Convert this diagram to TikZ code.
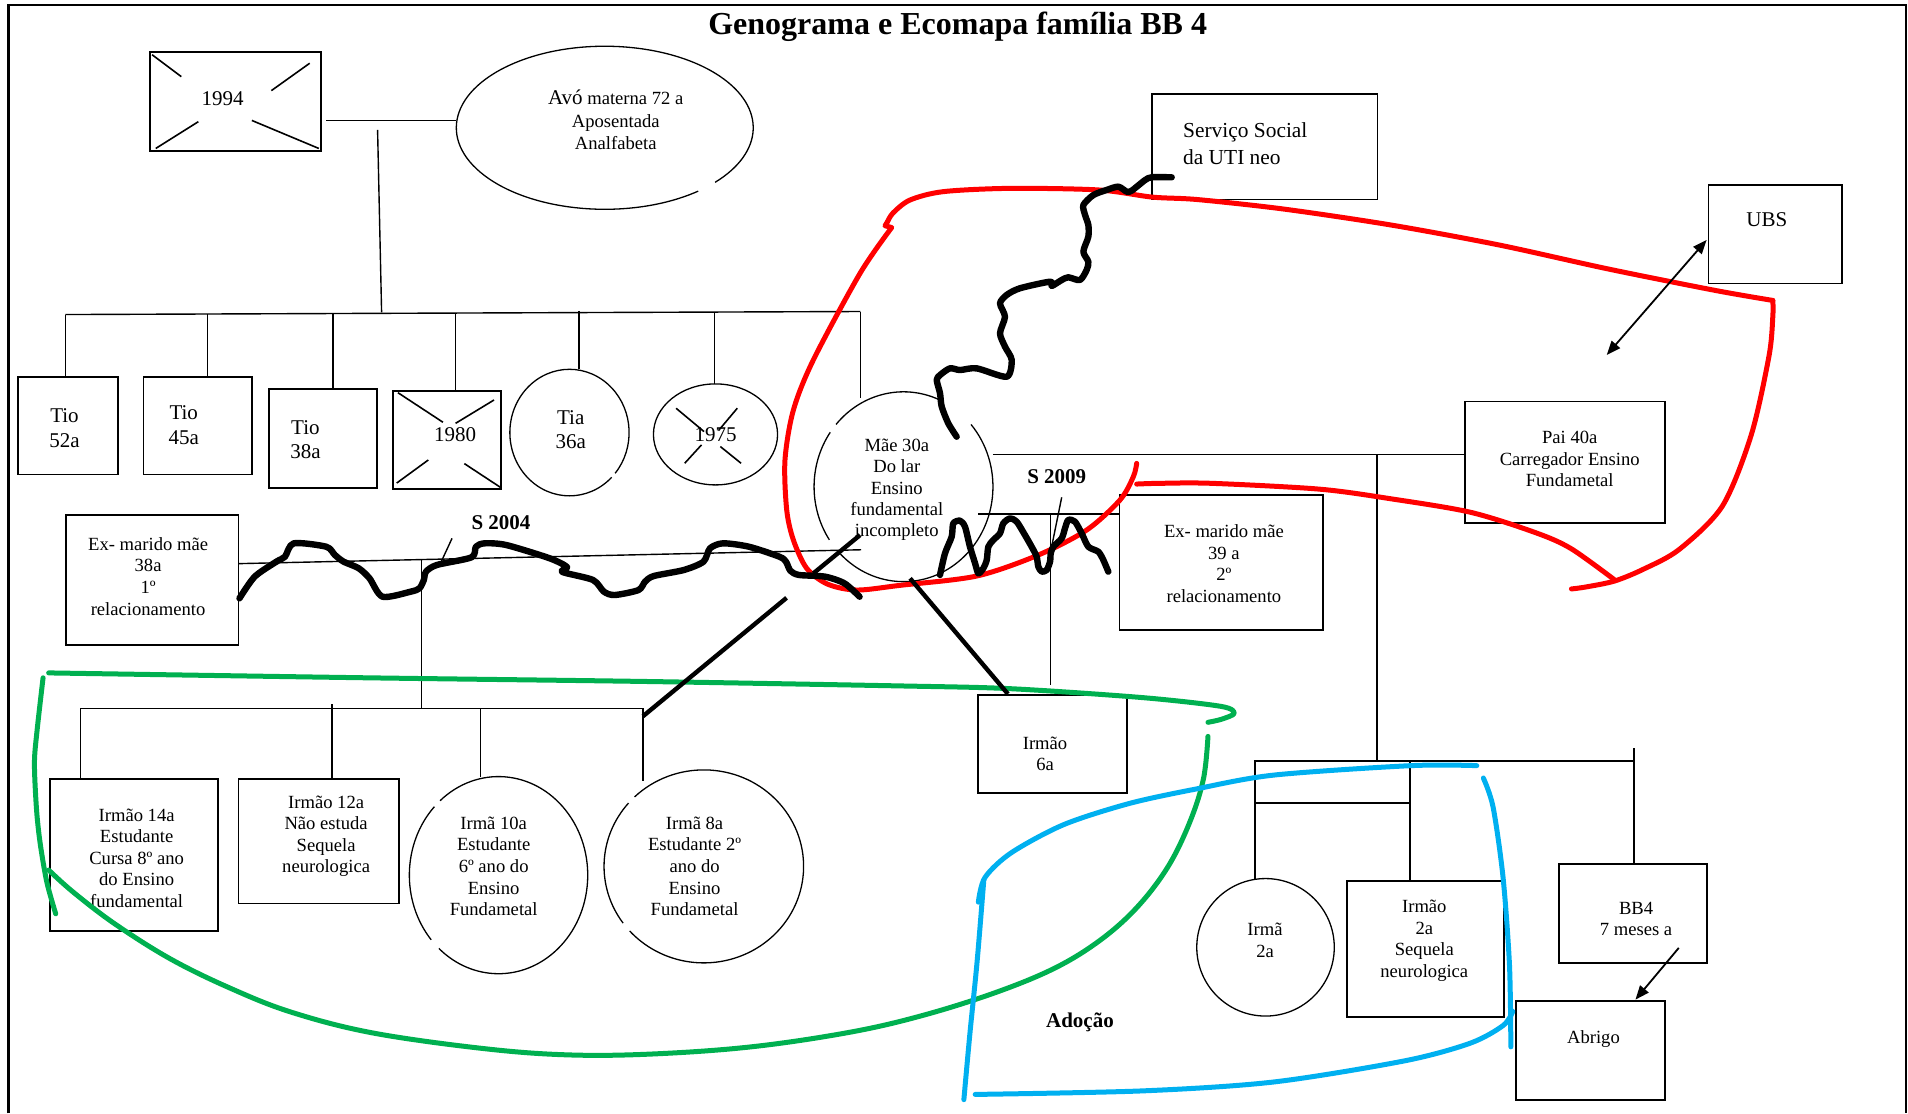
\documentclass[tikz,border=0pt]{standalone}
\usepackage{fontspec}
\setmainfont{Liberation Serif}
\usetikzlibrary{shapes.geometric,arrows.meta,fit}
\definecolor{ecored}{RGB}{255,0,0}
\definecolor{ecogreen}{RGB}{0,176,80}
\definecolor{ecoblue}{RGB}{0,176,240}

\tikzset{
  edgeline/.style={line width=1.2pt},
  gline/.style={line width=0.7pt},
  xline/.style={line width=0.8pt},
  box/.style={draw, line width=0.9pt, inner sep=0pt, outer sep=0pt},
  oval/.style 2 args={ellipse, inner sep=0pt, outer sep=0pt,
    minimum width={#1*1.2168pt}, minimum height={#2*1.2168pt}},
  rim/.style={line width=0.65pt},
  txtS/.style={align=center, inner sep=0pt, font=\fontsize{9.3}{10.8}\selectfont},
  txtL/.style={align=center, inner sep=0pt, font=\fontsize{10.5}{12.2}\selectfont},
  sepnote/.style={inner sep=0pt, font=\fontsize{10.5}{12.2}\selectfont\bfseries},
  wavy/.style={line width=3.2pt, line join=round, line cap=round},
  heavy/.style={line width=2.2pt},
  ecoline/.style={line width=2.5pt, line cap=round, line join=round},
  arrowline/.style={line width=0.9pt},
  tip/.style={arrows={-Triangle[length=7pt,width=5.5pt]}},
  tips/.style={arrows={Triangle[length=7pt,width=5.5pt]-Triangle[length=7pt,width=5.5pt]}},
}

\begin{document}
\begin{tikzpicture}[x=0.6084pt, y=-0.6084pt]
\useasboundingbox (0,0) rectangle (1568,915);

% page frame
\draw[edgeline] (7.1,915) -- (7.1,4.1) -- (1566.5,4.1) -- (1566.5,915);

\node[font=\fontsize{16}{19}\selectfont\bfseries, inner sep=0pt] (title) at (787,22)
  {Genograma e Ecomapa família BB 4};

% ---------------- shapes ----------------
\node[box, fit={(123,43) (264,124)}] (b1994) {};
\node[oval={122}{67}] (avo) at (497,105) {};
\node[box, fit={(15,310) (97,390)}] (tio52) {};
\node[box, fit={(118,310) (207,390)}] (tio45) {};
\node[box, fit={(221,320) (310,401)}] (tio38) {};
\node[box, fit={(323,321) (412,402)}] (b1980) {};
\node[oval={49}{52}] (tia) at (468,355.5) {};
\node[oval={51}{41.5}, draw, rim] (e1975) at (588,357) {};
\node[oval={73.5}{78}] (mae) at (742.5,400) {};
\node[box, fit={(54,423) (196,530)}] (exm1) {};
\node[box, fit={(920,407) (1087,518)}] (exm2) {};
\node[box, fit={(1204,330) (1368,430)}] (pai) {};
\node[box, fit={(947,77) (1132,164)}] (servico) {};
\node[box, fit={(1404,152) (1514,233)}] (ubs) {};
\node[box, fit={(41,640) (179,765)}] (irmao14) {};
\node[box, fit={(196,640) (328,742.5)}] (irmao12) {};
\node[oval={73.3}{81}] (irma10) at (409.7,719.2) {};
\node[oval={82}{79.3}] (irma8) at (578.4,712) {};
\node[box, fit={(804,571) (926,652)}] (irmao6) {};
\node[oval={56.5}{56.5}, draw, rim] (irma2) at (1040,778.5) {};
\node[box, fit={(1107,724) (1236,835.6)}] (irmao2) {};
\node[box, fit={(1281,710) (1403,791.6)}] (bb4) {};
\node[box, fit={(1246,822.6) (1368,904)}] (abrigo) {};

% ellipse outlines with their small breaks
\draw[rim, shift={(497,105)}] (51:122 and 67) arc[start angle=51, end angle=402, x radius=122, y radius=67];
\draw[rim, shift={(468,355.5)}] (45:49 and 52) arc[start angle=45, end angle=400, x radius=49, y radius=52];
\draw[rim, shift={(742.5,400)}] (-41:73.5 and 78) arc[start angle=-41, end angle=135, x radius=73.5, y radius=78];
\draw[rim, shift={(742.5,400)}] (146:73.5 and 78) arc[start angle=146, end angle=215, x radius=73.5, y radius=78];
\draw[rim, shift={(742.5,400)}] (221:73.5 and 78) arc[start angle=221, end angle=296, x radius=73.5, y radius=78];
\draw[rim, shift={(409.7,719.2)}] (229:73.3 and 81) arc[start angle=229, end angle=492, x radius=73.3, y radius=81];
\draw[rim, shift={(409.7,719.2)}] (139:73.3 and 81) arc[start angle=139, end angle=224, x radius=73.3, y radius=81];
\draw[rim, shift={(578.4,712)}] (226:82 and 79.3) arc[start angle=226, end angle=498, x radius=82, y radius=79.3];
\draw[rim, shift={(578.4,712)}] (144:82 and 79.3) arc[start angle=144, end angle=221, x radius=82, y radius=79.3];

% crosses of the deceased
\draw[xline] (125,45) -- (149,63) (254.5,52) -- (223,74.5) (128,122) -- (163,100) (262,122) -- (207,99);
\draw[xline] (327,322.7) -- (364,347) (406,328.7) -- (374.4,347.9) (326,397) -- (352,378) (412,401) -- (381.6,381);
\draw[xline] (555.6,335.5) -- (578.6,354.7) (605.9,335.5) -- (590.4,353.9) (562.7,380.7) -- (576.5,365.6) (592,367) -- (609,380.7);

% ---------------- texts ----------------
\node[txtL] (t1994) at (183,81) {1994};
\node[txtS, font=\fontsize{9.3}{11.3}\selectfont] (tavo) at (506,98.5)
  {{\fontsize{10.5}{11.3}\selectfont Avó} materna 72 a\\Aposentada\\Analfabeta};
\node[txtL] (ttio52) at (53,352) {Tio\\52a};
\node[txtL] (ttio45) at (151,349.5) {Tio\\45a};
\node[txtL] (ttio38) at (251,361.5) {Tio\\38a};
\node[txtL] (t1980) at (374,357) {1980};
\node[txtL] (ttia) at (469,353) {Tia\\36a};
\node[txtL] (t1975) at (588,357) {1975};
\node[txtS, font=\fontsize{9.3}{10.65}\selectfont] (tmae) at (737,402.6)
  {Mãe 30a\\Do lar\\Ensino\\fundamental\\incompleto};
\node[txtS] (texm1) at (121.7,473.7) {Ex- marido mãe\\38a\\1º\\relacionamento};
\node[txtS] (texm2) at (1005.8,463.1) {Ex- marido mãe\\39 a\\2º\\relacionamento};
\node[txtS] (tpai) at (1290,377.4) {Pai 40a\\Carregador Ensino\\Fundametal};
\node[anchor=west, align=left, inner sep=0pt, font=\fontsize{10.7}{13.3}\selectfont] (tserv)
  at (972,118.1) {Serviço Social\\da UTI neo};
\node[txtL] (tubs) at (1452,180.3) {UBS};
\node[txtS] (tirmao14) at (112.3,705.2) {Irmão 14a\\Estudante\\Cursa 8º ano\\do Ensino\\fundamental};
\node[txtS] (tirmao12) at (268,687.3) {Irmão 12a\\Não estuda\\Sequela\\neurologica};
\node[txtS] (tirma10) at (405.7,712) {Irmã 10a\\Estudante\\6º ano do\\Ensino\\Fundametal};
\node[txtS] (tirma8) at (570.8,712) {Irmã 8a\\Estudante 2º\\ano do\\Ensino\\Fundametal};
\node[txtS] (tirmao6) at (858.8,619.4) {Irmão\\6a};
\node[txtS] (tirma2) at (1039.6,772.9) {Irmã\\2a};
\node[txtS] (tirmao2) at (1170.5,773) {Irmão\\2a\\Sequela\\neurologica};
\node[txtS] (tbb4) at (1344.5,755.3) {BB4\\7 meses a};
\node[txtS] (tabrigo) at (1309.5,853.6) {Abrigo};
\node[sepnote] (s2004) at (411.7,429.5) {S 2004};
\node[sepnote] (s2009) at (868.4,391.7) {S 2009};
\node[sepnote] (adocao) at (887.5,839.9) {Adoção};

% ---------------- genogram lines ----------------
% grandparents
\coordinate (gpa) at (268,99);
\draw[gline] (gpa) -- (gpa -| avo.west);
\coordinate (gdesc) at (310.3,106.8);
\coordinate (gbar) at (313.6,256.8);
\draw[gline] (gdesc) -- (gbar);
\coordinate (sibL) at (53.7,258.5);
\coordinate (sibR) at (707,256);
\draw[gline] (sibL) -- (sibR);
\coordinate (d1) at (53.7,258.5);
\coordinate (d2) at (170.7,258.2);
\coordinate (d3) at (273.8,257.5);
\coordinate (d4) at (374.4,257.3);
\coordinate (d5) at (475.9,255.5);
\coordinate (d6) at (587,257);
\coordinate (maetop) at (707,327);
\draw[gline] (d1) -- (d1 |- tio52.north);
\draw[gline] (d2) -- (d2 |- tio45.north);
\draw[gline] (d3) -- (d3 |- tio38.north);
\draw[gline] (d4) -- (d4 |- b1980.north);
\draw[gline] (d5) -- (d5 |- tia.north);
\draw[gline] (d6) -- (d6 |- e1975.north);
\draw[gline] (sibR) -- (maetop);

% mother and first husband
\coordinate (u1a) at (196.3,463.2);
\coordinate (u1b) at (707.6,451.8);
\draw[gline] (u1a) -- (u1b);
\coordinate (s4top) at (346.3,460);
\coordinate (s4bar) at (346.3,582);
\draw[gline] (s4top) -- (s4bar);
\draw[gline] (371.5,442.4) -- (362.6,461.6);
\coordinate (kL) at (66,582);
\coordinate (kR) at (528.4,582);
\draw[gline] (kL) -- (kR);
\coordinate (k2) at (272.7,578.6);
\coordinate (k3) at (394.9,582);
\coordinate (k4end) at (528.4,641.7);
\draw[gline] (kL) -- (kL |- irmao14.north);
\draw[gline] (k2) -- (k2 |- irmao12.north);
\draw[gline] (k3) -- (k3 |- irma10.north);
\draw[gline] (kR) -- (k4end);

% mother and second husband
\coordinate (u2) at (804,422.4);
\draw[gline] (u2) -- (u2 -| exm2.west);
\draw[gline] (872.5,408.7) -- (864.5,448);
\coordinate (s9top) at (863.5,422.4);
\coordinate (s9end) at (863.5,563);
\draw[gline] (s9top) -- (s9end);

% mother and father
\coordinate (u3) at (816,373.4);
\draw[gline] (u3) -- (u3 -| pai.west);
\coordinate (pdesc) at (1131.6,373.4);
\coordinate (pbar) at (1131.6,625.4);
\draw[gline] (pdesc) -- (pbar);
\coordinate (pL) at (1030.4,625.4);
\coordinate (pR) at (1342.8,625.4);
\draw[line width=0.9pt] (pL) -- (pR);
\coordinate (p1) at (1031.4,625.4);
\coordinate (p2) at (1158.8,625.4);
\coordinate (p3) at (1342.8,615);
\coordinate (tw1) at (1031.4,659.7);
\coordinate (tw2) at (1158.8,659.7);
\draw[gline] (p1) -- (p1 |- irma2.north);
\draw[gline] (p2) -- (p2 |- irmao2.north);
\draw[gline] (p3) -- (p3 |- bb4.north);
\draw[line width=0.9pt] (tw1) -- (tw2);

% ---------------- ecomap ----------------
% green bond
\draw[ecoline, ecogreen] plot[smooth, tension=0.5] coordinates {(40,553) (300,557) (528,560) (740,563.7) (831,566) (939,573.3) (1003.4,580.5) (1014.2,586.3) (1003.4,591.2) (992.7,593.6)};
\draw[ecoline, ecogreen] plot[smooth, tension=0.5] coordinates {(35.4,557) (30.5,600) (28.3,627) (30,665) (33,693) (38.5,725) (45.8,751)};
\draw[ecoline, ecogreen] plot[smooth, tension=0.6] coordinates {(992.7,605.2) (989,640) (978,675) (960,712) (935,745) (905,772) (868,795) (820,815) (760,834) (700,848) (620,860) (540,866) (470,867) (400,862) (307,849) (240,832) (189,812) (140,788) (94,759) (60,733) (40,715)};

% blue bond
\draw[ecoline, ecoblue] plot[smooth, tension=0.5] coordinates {(1213.6,629.2) (1159.6,629.2) (1046.5,637) (981.9,648.6) (928,660.3) (874.1,677.7) (830.9,700.9) (809.4,721.2) (804,741.4)};
\draw[ecoline, ecoblue] plot[smooth, tension=0.5] coordinates {(808.5,723) (803,790) (797,850) (792.1,903.7)};
\draw[ecoline, ecoblue] plot[smooth, tension=0.5] coordinates {(801.4,899.4) (938.7,896.5) (1046.5,889.2) (1154.3,871.8) (1208.2,857.3) (1235.2,842.8) (1243.2,831.2)};
\draw[ecoline, ecoblue] plot[smooth, tension=0.5] coordinates {(1219,639.4) (1227,663.2) (1235.2,721.1) (1240.5,793.5) (1241.6,860.3)};

% red bond
\draw[ecoline, ecored] plot[smooth, tension=0.5] coordinates {(934.1,380.8) (931.4,391.7) (920.4,410.9) (893,435.6) (853.3,456.1) (802.6,473.4) (740,481) (704,484.9) (680,480) (662.9,467) (652,443.8) (646.5,419) (645.1,378) (652,337) (668.4,295.8) (706.8,224.6) (732.8,187)}
  -- (727.3,185.5) -- (729.5,182);
\draw[ecoline, ecored] plot[smooth, tension=0.5] coordinates {(729.5,182) (733.9,175) (747.8,164.4) (775.2,157.5) (830,154.8) (902.6,156.1) (947,162) (984,164) (1054.9,171.8) (1143.6,185) (1232.2,201.4) (1320.9,220.9) (1409.7,238.7) (1456.9,246.9)};
\draw[ecoline, ecored] plot[smooth, tension=0.5] coordinates {(1456.9,246.9) (1456.9,259.9) (1453.8,292.3) (1439.2,357.3) (1415.5,415.8) (1380,451.5) (1350.5,467.8) (1326.8,477.5) (1303.2,482.4) (1291.4,484)};
\draw[ecoline, ecored] plot[smooth, tension=0.5] coordinates {(934.1,397.8) (953.3,397.2) (995.8,397.2) (1084.5,402) (1143.6,410) (1208.5,421) (1261.8,437.7) (1291,450.8) (1326.4,476.2)};

% conflict lines
\draw[wavy] plot[smooth, tension=0.45] coordinates {(196.8,491.7) (209.3,473.9) (227.1,461.6) (234.2,457.5) (241.4,446.5) (268.1,449.3) (275.2,456.1) (282.4,461.6) (294.8,467) (303.7,475.3) (314.4,490.4) (337.6,486.2) (344.7,483.5) (348.3,476.6) (350.1,469.8) (359,464.3) (387.5,458) (391.1,449.3) (398.2,446.5) (416,447.9) (451.7,458.8) (466,466) (462,470) (487.3,476.6) (496.2,486.2) (505.1,489) (524.7,484.9) (530.1,478) (537.2,473.4) (562.1,468.4) (578.1,461.6) (583.5,450.6) (594.2,446.5) (615.5,449.3) (640.5,457.5) (645.9,461.6) (649.5,469) (656.5,472.5) (678,473.9) (694,479.4) (706.4,490.4)};
\draw[wavy] plot[smooth, tension=0.45] coordinates {(786.2,358.9) (779.3,347.9) (773.9,334.2) (772.5,323.2) (769.8,312.3) (772.5,308.2) (780.7,302.7) (788.9,304.1) (802.6,302.7) (827.3,309.6) (831.4,295.8) (825.9,284.9) (821.8,273.9) (825.9,260.3) (821.8,249.3) (827.3,242.4) (838.2,236.9) (862.9,231.5) (864.3,235) (872.5,230.1) (877.9,227.9) (887.5,230.1) (893,221.9) (894.4,215.1) (890.3,206.8) (894.4,194.5) (894.4,184.9) (891.7,176.7) (890.3,168.5) (898.5,160.3) (909.5,156.1) (919,153.4) (925.9,157.5) (930,156.7) (941,148) (946.5,145.7) (962.9,145.7)};
\draw[wavy] plot[smooth, tension=0.45] coordinates {(772.5,472.5) (776.6,454.7) (782.1,441) (783.4,430.1) (788.9,427.9) (793,432.8) (797.1,449.3) (801.3,462.9) (804,471.2) (808.1,467) (810.9,460.2) (812.2,449.3) (816.3,443.8) (821.8,438.3) (824.5,430.1) (830,426) (835.5,428.7) (842.3,439.7) (847.8,449.3) (851.9,457.5) (853.3,465.7) (856.1,469.8) (860.2,468.4) (862.9,461.6) (863.5,454.7) (865.6,449.3) (872.5,442.4) (875.2,434.2) (877.9,427.3) (883.4,428.7) (888.9,438.3) (894.4,449.3) (902.6,453.4) (906.7,460.2) (910.8,469.8)};

% strong ties from the mother
\coordinate (m8a) at (706.8,439.7);
\coordinate (m8b) at (668.4,471.2);
\coordinate (m8c) at (646.4,491.3);
\coordinate (m8d) at (528.4,588.6);
\draw[heavy] (m8a) -- (m8b);
\draw[heavy] (m8c) -- (m8d);
\coordinate (m6a) at (747.9,475.3);
\coordinate (m6b) at (828.3,570.3);
\draw[heavy] (m6a) -- (m6b);

% arrows
\coordinate (ubsend) at (1402.5,197.2);
\coordinate (ubsfree) at (1320.4,291.7);
\draw[arrowline, tips] (ubsfree) -- (ubsend);
\coordinate (bbout) at (1379.6,779);
\coordinate (abin) at (1344,821.5);
\draw[arrowline, tip] (bbout) -- (abin);

\end{tikzpicture}
\end{document}
